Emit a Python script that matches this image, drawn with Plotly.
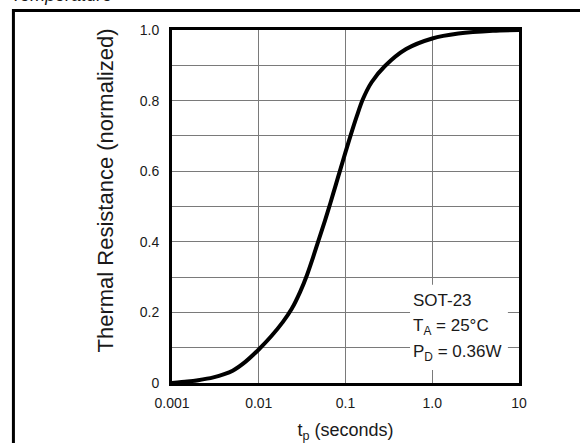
import plotly.graph_objects as go

# Data
t_seconds = [0.001, 0.0015, 0.002, 0.003, 0.004, 0.005, 0.007, 0.01, 0.014, 0.019,
             0.024, 0.03, 0.036, 0.042, 0.049, 0.058, 0.067, 0.077, 0.088, 0.1,
             0.115, 0.135, 0.158, 0.2, 0.285, 0.5, 1.0, 2.0, 5.0, 10.0]
r_norm = [0.0, 0.004, 0.008, 0.016, 0.025, 0.035, 0.06, 0.095, 0.133, 0.173,
          0.21, 0.258, 0.306, 0.354, 0.405, 0.46, 0.51, 0.56, 0.608, 0.654,
          0.703, 0.756, 0.803, 0.852, 0.898, 0.946, 0.976, 0.99, 0.998, 1.0]

x_tickvals = [0.001, 0.01, 0.1, 1, 10]
x_ticktext = ["0.001", "0.01", "0.1", "1.0", "10"]
y_tickvals = [0.0, 0.2, 0.4, 0.6, 0.8, 1.0]
y_ticktext = ["0", "0.2", "0.4", "0.6", "0.8", "1.0"]
y_minor_vals = [0.1, 0.3, 0.5, 0.7, 0.9]

note_lines = ["SOT-23", "T<sub>A</sub> = 25°C", "P<sub>D</sub> = 0.36W"]
heading_text = "Temperature"
y_title = "Thermal Resistance (normalized)"
x_title = "t<sub>p</sub> (seconds)"

FONT = "Liberation Sans, Arial, sans-serif"
TXT = "#1a1a1a"
GRID = "#7a7a7a"

fig = go.Figure()
fig.add_trace(go.Scatter(
    x=t_seconds, y=r_norm, mode="lines",
    line=dict(color="black", width=4, shape="spline", smoothing=0.8),
    showlegend=False, hoverinfo="skip"))

fig.update_layout(
    width=580, height=443,
    margin=dict(l=172, r=61, t=30, b=60),
    paper_bgcolor="white", plot_bgcolor="white",
    font=dict(family=FONT, color=TXT),
    showlegend=False,
)

fig.update_xaxes(
    type="log", range=[-3, 1], automargin=False,
    tickvals=x_tickvals, ticktext=x_ticktext,
    tickfont=dict(size=14, family=FONT, color=TXT),
    ticklabelstandoff=5,
    showgrid=True, gridcolor=GRID, gridwidth=1,
    showline=True, linecolor="black", linewidth=3, mirror=True,
    ticks="", zeroline=False,
    title=dict(text=x_title, font=dict(size=18, family=FONT, color=TXT), standoff=16),
)
fig.update_yaxes(
    range=[0, 1], automargin=False,
    tickvals=y_tickvals, ticktext=y_ticktext,
    tickfont=dict(size=14, family=FONT, color=TXT),
    ticklabelstandoff=7,
    showgrid=True, gridcolor=GRID, gridwidth=1,
    minor=dict(tickvals=y_minor_vals, showgrid=True, gridcolor=GRID, gridwidth=1, ticks=""),
    showline=True, linecolor="black", linewidth=3, mirror=True,
    ticks="", zeroline=False,
)

# y-axis title (placed slightly above the plot centre, as in the reference)
fig.add_annotation(x=-(172 - 105.5) / 347, y=(383 - 191) / 353, xref="paper", yref="paper",
                   text=y_title, textangle=-90, showarrow=False,
                   xanchor="center", yanchor="middle",
                   font=dict(size=22, family=FONT, color=TXT))

# white box behind the note (hides grid lines)
fig.add_shape(type="rect", xref="paper", yref="paper",
              x0=0.686, x1=0.968, y0=0.037, y1=0.278,
              fillcolor="white", line=dict(width=0), layer="above")

# outer frame of the figure panel
fig.add_shape(type="rect", xref="paper", yref="paper",
              x0=-0.457, x1=2.0, y0=-1.0, y1=1.055,
              fillcolor="rgba(0,0,0,0)", line=dict(color="black", width=3), layer="above")

note_y = [0.233, 0.160, 0.084]
for txt, yy in zip(note_lines, note_y):
    fig.add_annotation(x=0.690, y=yy, xref="paper", yref="paper",
                       text=txt, showarrow=False, xanchor="left", yanchor="middle",
                       font=dict(size=17, family=FONT, color=TXT))

# heading above the panel, cut off by the top edge of the picture
fig.add_annotation(x=-0.47, y=1.0 + 23.0 / 353, xref="paper", yref="paper",
                   text="<i>" + heading_text + "</i>", showarrow=False,
                   xanchor="left", yanchor="bottom",
                   font=dict(size=18, family=FONT, color=TXT))

fig.write_html("out.html", config={"displayModeBar": False},
               post_script="document.body.style.margin='0';")
